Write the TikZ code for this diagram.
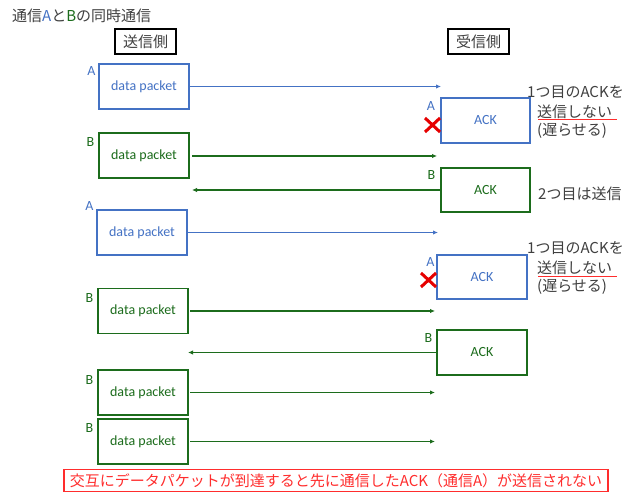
\documentclass[tikz,border=0pt]{standalone}
\usepackage{fontspec}
\setmainfont{Carlito}
\newfontfamily\jp{Noto Sans CJK JP}
\usetikzlibrary{arrows.meta}
\definecolor{cblue}{RGB}{68,114,196}
\definecolor{cgreen}{RGB}{28,108,28}
\definecolor{ctext}{RGB}{64,64,64}
\definecolor{cred}{RGB}{230,0,0}
\definecolor{cnote}{RGB}{255,45,45}
\begin{document}
\begin{tikzpicture}[x=1pt,y=-1pt,
  pkt/.style={draw, line width=1.4pt, minimum width=90pt, minimum height=45pt, inner sep=0pt, font=\fontsize{14}{16}\selectfont},
  lbl/.style={inner sep=0pt, font=\fontsize{14}{16}\selectfont},
  arr/.style={line width=1.1pt, -{Latex[length=5pt,width=4.5pt]}},
  hdr/.style={draw=black, line width=1.8pt, text=ctext, minimum width=61pt, minimum height=25pt, inner sep=0pt, font=\jp\fontsize{15}{18}\selectfont},
  jtxt/.style={inner sep=0pt, anchor=west, text=ctext, font=\jp\fontsize{15}{18}\selectfont},
  xmark/.style={cred, line width=3pt},
  uline/.style={cnote, line width=1.3pt}
]
\useasboundingbox[fill=white] (0,0) rectangle (633,492);

% title and headers
\node[jtxt] (title) at (12,16) {通信\textcolor{cblue}{A}と\textcolor{cgreen}{B}の同時通信};
\node[hdr] (send) at (145.5,41.5) {送信側};
\node[hdr] (recv) at (478.5,41.5) {受信側};

% sender packets
\node[pkt, draw=cblue, text=cblue] (pA1) at (144,86.5) {data packet};
\node[pkt, draw=cgreen, text=cgreen] (pB1) at (144,155.5) {data packet};
\node[pkt, draw=cblue, text=cblue] (pA2) at (142,232.5) {data packet};
\node[pkt, draw=cgreen, text=cgreen] (pB2) at (143,311) {data packet};
\node[pkt, draw=cgreen, text=cgreen] (pB3) at (143,392.5) {data packet};
\node[pkt, draw=cgreen, text=cgreen] (pB4) at (143,441.5) {data packet};

\node[lbl, text=cblue] (lA1) at (91.5,71.5) {A};
\node[lbl, text=cgreen] (lB1) at (90.5,142.5) {B};
\node[lbl, text=cblue] (lA2) at (89.5,206) {A};
\node[lbl, text=cgreen] (lB2) at (89.5,298) {B};
\node[lbl, text=cgreen] (lB3) at (89.5,380.5) {B};
\node[lbl, text=cgreen] (lB4) at (89.5,428) {B};

% receiver ACKs
\node[pkt, draw=cblue, text=cblue, minimum width=89pt] (kA1) at (485.5,120.5) {ACK};
\node[pkt, draw=cgreen, text=cgreen, minimum width=89pt, minimum height=44pt] (kB1) at (485.5,190) {ACK};
\node[pkt, draw=cblue, text=cblue, minimum height=44pt] (kA2) at (482,277) {ACK};
\node[pkt, draw=cgreen, text=cgreen] (kB2) at (482,352.5) {ACK};

\node[lbl, text=cblue] (rA1) at (431,106.5) {A};
\node[lbl, text=cgreen] (rB1) at (431.5,175) {B};
\node[lbl, text=cblue] (rA2) at (430.5,262) {A};
\node[lbl, text=cgreen] (rB2) at (428.5,338) {B};

% arrow end points
\coordinate (eA1) at (441,87);
\coordinate (eB1) at (437,156);
\coordinate (sB1) at (192,156);
\coordinate (eK1) at (192,190);
\coordinate (eA2) at (438,232.5);
\coordinate (eB2) at (435,311);
\coordinate (sB2) at (190,311);
\coordinate (eK2) at (188,352.5);
\coordinate (eB3) at (435,392.5);
\coordinate (sB3) at (190,392.5);
\coordinate (eB4) at (435,441.5);
\coordinate (sB4) at (190,441.5);

\draw[arr, cblue] (pA1.east) -- (eA1 |- pA1.east);
\draw[arr, cgreen] (sB1) -- (eB1);
\draw[arr, cgreen] (kB1.west) -- (eK1);
\draw[arr, cblue] (pA2.east) -- (eA2);
\draw[arr, cgreen] (sB2) -- (eB2);
\draw[arr, cgreen] (kB2.west) -- (eK2);
\draw[arr, cgreen] (sB3) -- (eB3);
\draw[arr, cgreen] (sB4) -- (eB4);

% red crosses
\draw[xmark] (425,118) -- (440,132) (425,132) -- (440,118);
\draw[xmark] (421,273) -- (436,287) (421,287) -- (436,273);

% notes
\node[jtxt] (n1a) at (527,92) {1つ目のACKを};
\node[jtxt] (n1b) at (537,112) {送信しない};
\node[jtxt] (n1c) at (537,131) {(遅らせる)};
\draw[uline] (538,119.5) -- (617,119.5);
\node[jtxt] (n2) at (538,194) {2つ目は送信};
\node[jtxt] (n3a) at (527,248) {1つ目のACKを};
\node[jtxt] (n3b) at (537,268) {送信しない};
\node[jtxt] (n3c) at (537,287) {(遅らせる)};
\draw[uline] (538,276.5) -- (617,276.5);

% bottom note
\node[draw=cnote, line width=1.3pt, text=cnote, minimum width=544pt, minimum height=22pt, inner sep=0pt, font=\jp\fontsize{15}{18}\selectfont] (note) at (336,480.5) {交互にデータパケットが到達すると先に通信したACK（通信A）が送信されない};
\end{tikzpicture}
\end{document}
